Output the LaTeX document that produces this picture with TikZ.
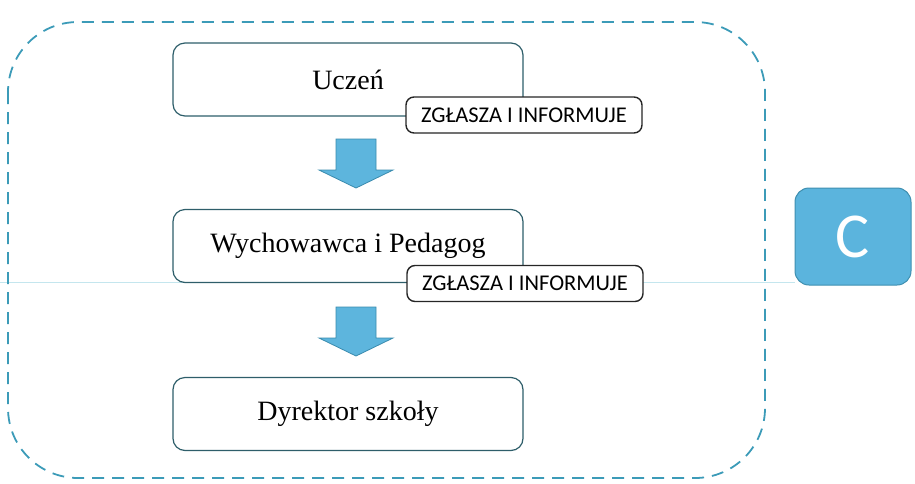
\documentclass[tikz,border=0pt]{standalone}
\usepackage{fontspec}
\setmainfont{Liberation Serif}
\newfontfamily\labelfont{Carlito}
\definecolor{dashblue}{HTML}{3C9BB8}
\definecolor{boxedge}{HTML}{2E5E6A}
\definecolor{arrowfill}{HTML}{5DB5DD}
\definecolor{arrowedge}{HTML}{3A8BAE}
\definecolor{cfill}{HTML}{5BB4DD}
\definecolor{cedge}{HTML}{3E8FB0}
\definecolor{faintline}{HTML}{C4E6EE}
\tikzset{
  x=1pt, y=-1pt,
  mainbox/.style={draw=boxedge, line width=1.2pt, rounded corners=12pt, fill=white,
    minimum width=350pt, minimum height=73pt, inner sep=0pt, font=\fontsize{28}{32}\selectfont},
  tagbox/.style={draw=black!85, line width=1.4pt, rounded corners=8pt, fill=white,
    minimum width=236pt, minimum height=36pt, inner sep=0pt, font=\labelfont\fontsize{22.5}{25}\selectfont},
  blockarrow/.style={draw=arrowedge, fill=arrowfill, line width=0.8pt, line join=miter},
}
\newcommand{\blockarrowat}[1]{%
  \draw[blockarrow] ($(#1)+(-20,0)$) -- ($(#1)+(20,0)$) -- ($(#1)+(20,31)$) -- ($(#1)+(37,31)$)
   -- ($(#1)+(0,49)$) -- ($(#1)+(-37,31)$) -- ($(#1)+(-20,31)$) -- cycle;}
\usetikzlibrary{calc}
\begin{document}
\begin{tikzpicture}
\useasboundingbox (0,0) rectangle (915,483);
% faint horizontal line
\coordinate (lineL) at (0,282);
\node[draw=cedge, line width=1pt, fill=cfill, rounded corners=14pt, minimum width=116pt,
  minimum height=97pt, inner sep=0pt, text=white, font=\labelfont\fontsize{64}{70}\selectfont]
  (C) at (853,236.5) {C};
\draw[faintline, line width=1pt] (lineL) -- (lineL -| C.west);
% dashed outer frame
\draw[dashblue, line width=1.8pt, dash pattern=on 12pt off 8pt, rounded corners=70pt]
  (8,22) rectangle (765,478);
% main boxes
\node[mainbox] (u) at (348,79.5) {Ucze\'n};
\node[mainbox] (w) at (348,246) {Wychowawca i Pedagog};
\node[mainbox] (d) at (348,414) {Dyrektor szko\l{}y};
% tags
\node[tagbox] (t1) at (524,115) {ZGŁASZA I INFORMUJE};
\node[tagbox] (t2) at (525,283.5) {ZGŁASZA I INFORMUJE};
% block arrows
\coordinate (a1) at (356,139);
\coordinate (a2) at (356,307);
\blockarrowat{a1}
\blockarrowat{a2}
\end{tikzpicture}
\end{document}
